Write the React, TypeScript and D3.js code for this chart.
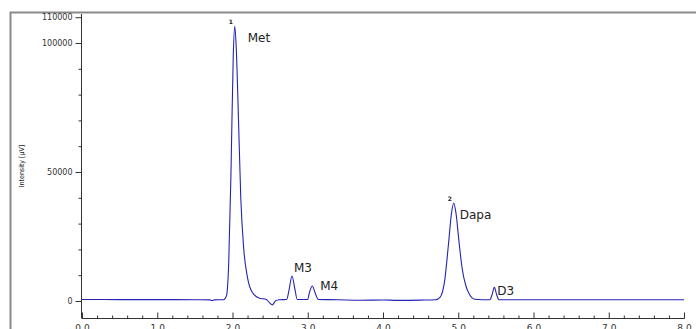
import React, { useEffect, useRef } from "react";
import * as d3 from "d3";

const width = 696;
const height = 329;

// retention time (min) and detector signal (µV)
const times = [
  0.0, 0.5, 1.0, 1.5, 1.7, 1.73, 1.76, 1.88, 1.92, 1.95, 1.98, 2.01, 2.03,
  2.05, 2.08, 2.11, 2.15, 2.2, 2.26, 2.35, 2.45, 2.49, 2.53, 2.57, 2.62, 2.72,
  2.75, 2.79, 2.83, 2.86, 3.0, 3.02, 3.06, 3.1, 3.14, 3.4, 3.7, 4.0, 4.2, 4.5,
  4.7, 4.76, 4.82, 4.87, 4.91, 4.94, 4.97, 5.01, 5.05, 5.1, 5.15, 5.22, 5.42,
  5.45, 5.48, 5.51, 5.54, 6.0, 7.0, 8.0,
];
const signal = [
  600, 550, 550, 500, 450, 150, 450, 500, 2000, 15000, 50000, 95000, 106500,
  98000, 70000, 40000, 20000, 9000, 3500, 1200, 600, -600, -1500, 0, 500, 600,
  4000, 9700, 4500, 600, 600, 3000, 5800, 3000, 600, 500, 300, 400, 250, 350,
  500, 1500, 8000, 22000, 34000, 38000, 34000, 23000, 13000, 6000, 2500, 700,
  500, 2500, 5300, 2500, 500, 500, 500, 500,
];

// peak annotations
const peakNames = ["Met", "M3", "M4", "Dapa", "D3"];
const peakTimes = [2.03, 2.79, 3.06, 4.94, 5.48];
const peakHeights = [106500, 9700, 5800, 38000, 5300];
const peakNumbers = ["1", "", "", "2", ""];

const yMajor = [0, 50000, 100000, 110000];
const xMajor = [0, 1, 2, 3, 4, 5, 6, 7, 8];

// where each name sits relative to its peak apex
const labelOffset = {
  Met: [13, 16],
  M3: [2, -4],
  M4: [8, 4],
  Dapa: [6, 16],
  D3: [3, 8],
};

const App = () => {
  const svgRef = useRef(null);

  useEffect(() => {
    const svg = d3.select(svgRef.current);
    svg.selectAll("*").remove();

    const x = d3.scaleLinear().domain([0, 8]).range([82, 684]);
    const y = d3.scaleLinear().domain([0, 100000]).range([301, 43]);

    // outer frame
    svg
      .append("path")
      .attr("d", `M10.5,${height + 5} V12.5 H${width + 5}`)
      .attr("fill", "none")
      .attr("stroke", "#8a8a8a")
      .attr("stroke-width", 2);

    // y axis
    const yAxis = d3
      .axisLeft(y)
      .tickValues(d3.range(0, 110001, 10000))
      .tickSize(3)
      .tickFormat((d) => (yMajor.includes(+d) ? String(d) : ""));
    const gy = svg
      .append("g")
      .attr("transform", "translate(81.5,0)")
      .call(yAxis);
    gy.select(".domain").attr("d", "M0,14V318");
    gy.selectAll(".tick")
      .filter((d) => yMajor.includes(+d))
      .select("line")
      .attr("x2", -6);
    gy.selectAll(".tick text")
      .attr("x", -9)
      .attr("font-size", 8)
      .attr("font-family", "Verdana, 'DejaVu Sans', sans-serif")
      .attr("fill", "#333");
    gy.selectAll("line, path").attr("stroke", "#333");

    // x axis
    const xAxis = d3
      .axisBottom(x)
      .tickValues(d3.range(0, 41).map((i) => i * 0.2))
      .tickSize(-3)
      .tickFormat((d) =>
        xMajor.some((m) => Math.abs(m - +d) < 1e-6) ? (+d).toFixed(1) : ""
      );
    const gx = svg
      .append("g")
      .attr("transform", "translate(0,318.5)")
      .call(xAxis);
    gx.select(".domain").attr("d", "M81.5,0H684.5V-5");
    gx.selectAll(".tick")
      .filter((d) => xMajor.some((m) => Math.abs(m - +d) < 1e-6))
      .select("line")
      .attr("y2", -6);
    gx.selectAll(".tick line").attr("y1", 0);
    gx.selectAll(".tick text")
      .attr("y", 6)
      .attr("dy", "0.71em")
      .attr("font-size", 9)
      .attr("font-family", "Verdana, 'DejaVu Sans', sans-serif")
      .attr("fill", "#333");
    gx.selectAll("line, path").attr("stroke", "#333");

    // y axis title
    svg
      .append("text")
      .attr("transform", "translate(24,166) rotate(-90)")
      .attr("text-anchor", "middle")
      .attr("font-size", 7)
      .attr("font-family", "'Liberation Sans Narrow', 'DejaVu Sans Condensed', sans-serif")
      .attr("fill", "#222")
      .text("Intensity [µV]");

    // chromatogram trace
    const pts = times.map((t, i) => [t, signal[i]]);
    const line = d3
      .line()
      .x((d) => x(d[0]))
      .y((d) => y(d[1]))
      .curve(d3.curveMonotoneX);
    svg
      .append("path")
      .datum(pts)
      .attr("d", line)
      .attr("fill", "none")
      .attr("stroke", "#2424b4")
      .attr("stroke-width", 1.1);

    // peak labels
    const labels = svg.append("g");
    peakNames.forEach((name, i) => {
      const px = x(peakTimes[i]);
      const py = y(peakHeights[i]);
      const [dx, dy] = labelOffset[name];
      labels
        .append("text")
        .attr("x", px + dx)
        .attr("y", py + dy)
        .attr("font-size", 12)
        .attr("font-family", "Tahoma, 'DejaVu Sans', sans-serif")
        .attr("fill", "#222")
        .text(name);
      if (peakNumbers[i]) {
        labels
          .append("text")
          .attr("x", px - 4)
          .attr("y", py - 2)
          .attr("text-anchor", "middle")
          .attr("font-size", 6)
          .attr("font-weight", "bold")
          .attr("font-family", "Verdana, 'DejaVu Sans', sans-serif")
          .attr("fill", "#222")
          .text(peakNumbers[i]);
      }
    });
  }, []);

  return (
    <svg
      ref={svgRef}
      width={width}
      height={height}
      style={{ position: "absolute", left: 0, top: 0, background: "#fff" }}
    ></svg>
  );
};

export default App;
